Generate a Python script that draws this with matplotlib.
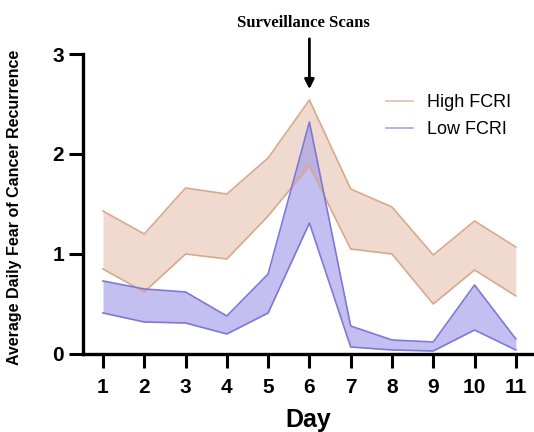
import matplotlib
matplotlib.use("Agg")
import matplotlib.pyplot as plt

# data
days = [1, 2, 3, 4, 5, 6, 7, 8, 9, 10, 11]
high_upper = [1.43, 1.20, 1.66, 1.60, 1.96, 2.54, 1.65, 1.47, 0.99, 1.33, 1.07]
high_lower = [0.85, 0.62, 1.00, 0.95, 1.38, 1.88, 1.05, 1.00, 0.50, 0.84, 0.58]
low_upper = [0.73, 0.65, 0.62, 0.38, 0.80, 2.32, 0.28, 0.14, 0.12, 0.69, 0.15]
low_lower = [0.41, 0.32, 0.31, 0.20, 0.41, 1.31, 0.07, 0.04, 0.03, 0.24, 0.04]

plt.rcParams['font.family'] = ['Liberation Sans', 'DejaVu Sans']

fig = plt.figure(figsize=(5.34, 4.32), dpi=100)
ax = fig.add_axes([0.1554, 0.1806, 0.8446, 0.6944])

high_edge = '#d9a98c'
high_fill = '#e6c1ae'
low_edge = '#7d78d9'
low_fill = '#9b95e6'

# high FCRI band
ax.fill_between(days, high_lower, high_upper, color=high_fill, alpha=0.6, lw=0)
ax.plot(days, high_upper, color=high_edge, lw=1.2)
ax.plot(days, high_lower, color=high_edge, lw=1.2)

# low FCRI band
ax.fill_between(days, low_lower, low_upper, color=low_fill, alpha=0.6, lw=0)
ax.plot(days, low_upper, color=low_edge, lw=1.2)
ax.plot(days, low_lower, color=low_edge, lw=1.2)

# legend handles
h1, = ax.plot([], [], color='#e0bca8', lw=1.2)
h2, = ax.plot([], [], color='#a9a4ea', lw=1.2)
ax.legend([h1, h2], ['High FCRI', 'Low FCRI'], loc='upper left',
          bbox_to_anchor=(0.655, 0.89), frameon=False, fontsize=13,
          handlelength=1.5, handletextpad=0.8, labelspacing=0.55,
          borderaxespad=0)

ax.set_xlim(0.516, 11.44)
ax.set_ylim(0, 3)
ax.set_xticks(days)
ax.set_yticks([0, 1, 2, 3])

for s in ['top', 'right']:
    ax.spines[s].set_visible(False)
for s in ['left', 'bottom']:
    ax.spines[s].set_linewidth(2.4)

ax.tick_params(axis='both', direction='out', length=10, width=2.2,
               labelsize=15)
ax.tick_params(axis='x', pad=7.5)
ax.tick_params(axis='y', pad=3.5)
for lab in ax.get_xticklabels() + ax.get_yticklabels():
    lab.set_fontweight('bold')

ax.set_xlabel('Day', fontsize=18, fontweight='bold')
ax.xaxis.set_label_coords(0.5, -0.18)
ax.set_ylabel('Average Daily Fear of Cancer Recurrence', fontsize=11.5,
              fontweight='bold')
ax.yaxis.set_label_coords(-0.135, 0.49)

# annotation for the scans
ax.annotate('', xy=(6, 2.62), xytext=(6, 3.18),
            arrowprops=dict(arrowstyle='-|>', color='black', lw=2,
                            mutation_scale=14),
            annotation_clip=False)
ax.text(5.85, 3.31, 'Surveillance Scans', ha='center', va='center',
        fontsize=12, fontweight='bold', family=['Liberation Serif'],
        clip_on=False)

fig.savefig('out.png', dpi=100)
